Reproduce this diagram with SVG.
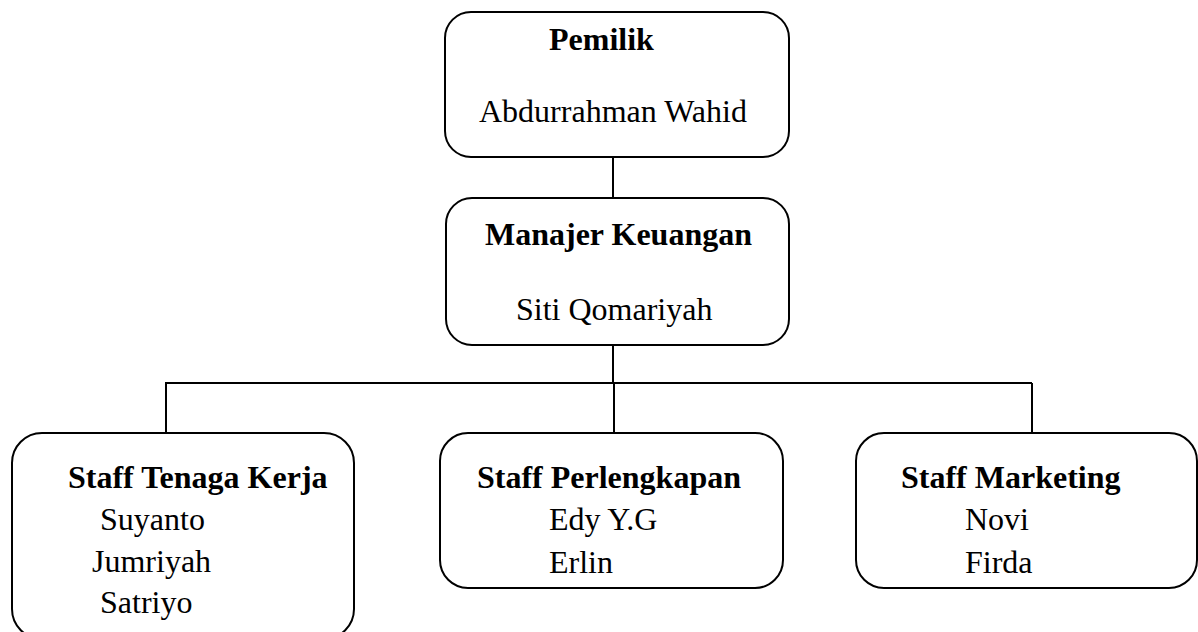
<svg xmlns="http://www.w3.org/2000/svg" width="1198" height="632" viewBox="0 0 1198 632">
<style>
.box{fill:#fff;stroke:#000;stroke-width:2}
.ln{stroke:#000;stroke-width:2;fill:none}
text{font-family:"Liberation Serif","Times New Roman",serif;font-size:32px;fill:#000}
.b{font-weight:bold}
</style>
<rect width="1198" height="632" fill="#fff"/>
<g id="connectors">
<line class="ln" x1="613" y1="157" x2="613" y2="198"/>
<line class="ln" x1="613" y1="345" x2="613" y2="383"/>
<line class="ln" x1="165" y1="383" x2="1032" y2="383"/>
<line class="ln" x1="166" y1="383" x2="166" y2="433"/>
<line class="ln" x1="614" y1="383" x2="614" y2="433"/>
<line class="ln" x1="1032" y1="383" x2="1032" y2="433"/>
</g>
<g id="pemilik">
<rect class="box" x="445" y="12" width="344" height="145" rx="26"/>
<text class="b" x="549" y="50">Pemilik</text>
<text x="479" y="122">Abdurrahman Wahid</text>
</g>
<g id="manajer">
<rect class="box" x="446" y="198" width="343" height="147" rx="26"/>
<text class="b" x="485" y="245">Manajer Keuangan</text>
<text x="516" y="320">Siti Qomariyah</text>
</g>
<g id="tenaga-kerja">
<rect class="box" x="12" y="433" width="342" height="206" rx="30"/>
<text class="b" x="68" y="488">Staff Tenaga Kerja</text>
<text x="100" y="530">Suyanto</text>
<text x="92" y="572">Jumriyah</text>
<text x="100" y="613">Satriyo</text>
</g>
<g id="perlengkapan">
<rect class="box" x="440" y="433" width="343" height="155" rx="28"/>
<text class="b" x="477" y="488">Staff Perlengkapan</text>
<text x="549" y="530">Edy Y.G</text>
<text x="549" y="573">Erlin</text>
</g>
<g id="marketing">
<rect class="box" x="856" y="433" width="341" height="155" rx="28"/>
<text class="b" x="901" y="488">Staff Marketing</text>
<text x="965" y="530">Novi</text>
<text x="965" y="573">Firda</text>
</g>
</svg>
